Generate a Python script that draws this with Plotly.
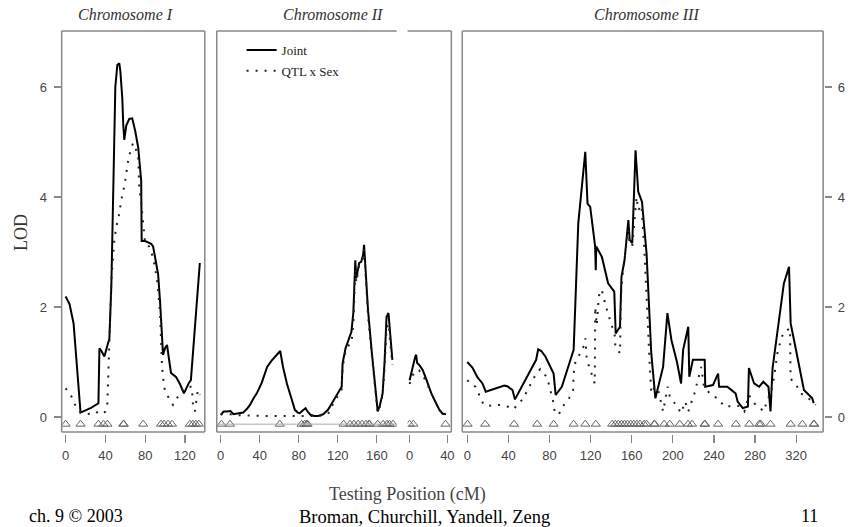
import plotly.graph_objects as go

W, H = 851, 527

# ---------------- data ----------------
# Chromosome I
c1_joint_x = [0, 4, 8, 11, 14, 15, 20, 26, 33, 34, 36, 39, 42, 44, 46, 48, 49, 50, 52, 54, 55, 57, 58, 59, 61, 64, 67, 70, 73, 75, 76, 76.5, 80, 86, 88, 90, 93, 95, 97, 98, 100, 102, 104, 106, 111, 115, 119, 122, 124, 126, 127, 131, 135]
c1_joint_y = [2.19, 2.05, 1.7, 1.0, 0.2, 0.08, 0.12, 0.17, 0.25, 1.25, 1.2, 1.1, 1.3, 1.42, 2.4, 4.0, 5.4, 6.0, 6.4, 6.43, 6.3, 5.8, 5.3, 5.04, 5.3, 5.42, 5.43, 5.2, 4.9, 4.5, 4.3, 3.2, 3.2, 3.15, 3.1, 2.9, 2.6, 2.1, 1.4, 1.13, 1.25, 1.31, 1.05, 0.8, 0.73, 0.6, 0.43, 0.55, 0.62, 0.67, 0.9, 1.9, 2.8]
c1_sex_x = [0, 3, 6, 10, 14, 20, 26, 30, 33, 37, 40, 42, 42.5, 43, 44, 46, 49, 51, 54, 56, 59, 63, 66, 68, 71, 73, 74, 76, 80, 84, 88, 92, 95, 96, 97, 99, 101, 104, 108, 113, 119, 124, 127, 128, 130, 133, 135]
c1_sex_y = [0.52, 0.45, 0.37, 0.2, 0.1, 0.05, 0.06, 0.1, 0.07, 0.05, 0.1, 0.25, 0.55, 1.0, 1.64, 2.49, 3.22, 3.46, 3.7, 3.95, 4.19, 4.67, 4.9, 4.98, 4.85, 4.73, 4.19, 3.9, 3.15, 3.1, 2.9, 2.49, 1.89, 1.2, 0.91, 0.55, 0.43, 0.34, 0.22, 0.37, 0.52, 0.55, 0.55, 0.25, 0.1, 0.49, 0.4]
c1_markers = [0, 15, 33, 38, 42, 58, 58.5, 78, 96, 99, 103, 107, 125, 128, 131, 134]

# Chromosome II (first segment)
c2a_joint_x = [0, 3, 6, 10, 13, 18, 23, 27, 30, 34, 37, 42, 47.6, 52, 56, 61, 64, 68, 73, 76, 79, 81, 84, 87, 89, 92, 96, 100, 105, 110, 114, 119, 122, 124, 125, 128, 131, 134, 136, 138, 139, 140, 142, 144, 146, 147, 149, 151, 155, 158, 160, 161, 163, 166, 168, 170, 172, 174, 175, 176]
c2a_joint_y = [0.04, 0.1, 0.1, 0.11, 0.05, 0.06, 0.08, 0.15, 0.22, 0.35, 0.43, 0.62, 0.91, 1.02, 1.1, 1.2, 0.9, 0.6, 0.31, 0.13, 0.08, 0.07, 0.12, 0.16, 0.1, 0.04, 0.02, 0.02, 0.05, 0.13, 0.25, 0.4, 0.5, 0.55, 0.98, 1.25, 1.4, 1.55, 1.9, 2.85, 2.52, 2.6, 2.8, 2.82, 2.95, 3.13, 2.6, 1.95, 1.16, 0.6, 0.31, 0.1, 0.2, 0.43, 1.0, 1.82, 1.89, 1.5, 1.28, 1.04]
c2a_sex_x = [0, 10, 20, 30, 40, 50, 60, 70, 80, 85, 90, 100, 110, 114, 119, 122, 124, 125, 128, 131, 134, 136, 138, 139, 140, 142, 144, 146, 147, 149, 151, 155, 158, 160, 161, 163, 166, 168, 170, 172, 174, 175, 176]
c2a_sex_y = [0.05, 0.05, 0.03, 0.02, 0.02, 0.02, 0.02, 0.02, 0.02, 0.03, 0.02, 0.02, 0.05, 0.2, 0.35, 0.45, 0.5, 0.9, 1.2, 1.3, 1.34, 1.7, 2.7, 2.45, 2.55, 2.75, 2.78, 2.9, 3.05, 2.5, 1.85, 1.1, 0.55, 0.28, 0.08, 0.18, 0.4, 0.9, 1.6, 1.7, 1.3, 1.15, 0.95]
c2a_markers = [0.7, 9.5, 60.5, 83, 86, 88, 89, 126, 132.5, 136.6, 141, 145, 149, 152, 152.5, 161, 166.5, 170.5, 173, 176.7]

# Chromosome II (second segment)
c2b_joint_x = [0, 3, 6, 7, 8, 10, 14, 18, 23, 28, 31.6, 35, 38.6]
c2b_joint_y = [0.67, 0.9, 1.1, 1.13, 0.98, 0.95, 0.85, 0.67, 0.43, 0.25, 0.13, 0.06, 0.05]
c2b_sex_x = [0, 4, 7, 10, 14, 18, 23, 28, 32, 36, 38]
c2b_sex_y = [0.6, 0.78, 0.85, 0.85, 0.75, 0.63, 0.43, 0.25, 0.12, 0.05, 0.04]
c2b_markers = [0, 4, 38]

# Chromosome III
c3_joint_x = [0, 5, 10, 14.8, 18, 24, 31, 36, 39, 44, 46.4, 53, 60, 67, 69, 72, 76, 80, 84, 86, 92, 98, 103.5, 108, 114.8, 117, 119.6, 124.4, 125, 125.5, 131, 137, 143, 144.4, 148.6, 150, 153, 156.7, 158, 160.5, 163.7, 166.3, 170, 174.4, 179, 183, 190.5, 194.7, 198.6, 204, 208, 210, 215, 216, 219.5, 231, 231.5, 239, 244, 245, 253, 261, 263, 268, 273, 274, 279, 284, 288, 293, 295, 297, 308, 313, 314.6, 320, 327.5, 335.6, 337]
c3_joint_y = [1.0, 0.9, 0.72, 0.61, 0.46, 0.5, 0.55, 0.57, 0.56, 0.49, 0.32, 0.55, 0.79, 1.04, 1.23, 1.2, 1.1, 0.95, 0.79, 0.4, 0.55, 0.9, 1.22, 3.52, 4.82, 3.88, 3.82, 3.1, 2.67, 3.1, 2.91, 2.43, 2.28, 1.52, 1.64, 2.55, 2.85, 3.58, 3.22, 3.16, 4.85, 4.1, 3.91, 2.98, 1.16, 0.34, 0.91, 1.89, 1.4, 1.0, 0.61, 1.22, 1.64, 0.73, 1.04, 1.04, 0.55, 0.58, 0.79, 0.55, 0.55, 0.43, 0.28, 0.16, 0.19, 0.89, 0.61, 0.55, 0.64, 0.55, 0.1, 0.89, 2.43, 2.73, 1.7, 1.2, 0.49, 0.34, 0.25]
c3_sex_x = [0, 4, 8, 11.6, 13, 16, 24.5, 31, 38, 45, 50, 55, 57, 61.6, 66, 71, 77.7, 80, 84, 85, 89, 91, 95, 99, 103, 103.5, 105, 109, 113, 115, 116, 118, 121, 124, 124.5, 126, 127.7, 129, 131, 135, 140, 143.8, 144, 148.6, 149, 150, 152, 153.5, 156.7, 158, 160.5, 164.7, 166.3, 169.5, 172.8, 177.6, 179, 182.5, 185.7, 190.5, 195, 197, 203, 208, 212, 215, 221, 227.6, 230, 235, 240, 244, 250, 258, 264, 269.5, 274, 279, 284, 288, 292, 296, 298.5, 301.7, 305, 308, 314, 314.5, 321, 324, 327.5, 334, 339]
c3_sex_y = [0.67, 0.6, 0.55, 0.4, 0.37, 0.22, 0.2, 0.22, 0.2, 0.14, 0.25, 0.34, 0.43, 0.58, 0.75, 0.87, 0.72, 0.55, 0.25, 0.1, 0.04, 0.13, 0.25, 0.34, 0.49, 0.79, 0.98, 1.13, 1.28, 1.43, 1.1, 0.95, 0.79, 0.61, 2.0, 1.67, 2.13, 2.31, 2.3, 2.0, 1.7, 1.46, 1.28, 1.16, 1.61, 2.37, 2.73, 2.98, 3.4, 3.16, 3.1, 4.0, 3.76, 3.85, 2.85, 0.91, 0.43, 0.55, 0.49, 0.1, 0.55, 0.37, 0.22, 0.07, 0.28, 0.1, 0.43, 0.91, 0.58, 0.45, 0.37, 0.34, 0.19, 0.2, 0.2, 0.1, 0.4, 0.25, 0.19, 0.1, 0.3, 0.5, 0.73, 1.16, 1.4, 1.55, 1.61, 0.7, 0.55, 0.43, 0.4, 0.31, 0.22]
c3_markers = [0.3, 17.4, 45.5, 68, 84, 103.5, 114.8, 125, 141, 144, 147, 150, 153, 156, 159, 162, 165, 168, 172, 174.4, 181.8, 182.3, 191.5, 197, 206.7, 214.7, 218.6, 230.8, 231.3, 244, 261.4, 274.4, 284, 285.6, 295, 314.6, 326, 337, 337.5]

marker_lod = -0.13

panel_titles = ["Chromosome I", "Chromosome II", "Chromosome III"]
c1_ticks = [0, 40, 80, 120]
c2a_ticks = [0, 40, 80, 120, 160]
c2b_ticks = [0, 40]
c3_ticks = [0, 40, 80, 120, 160, 200, 240, 280, 320]
lod_ticks = [0, 2, 4, 6]

# ---------------- layout helpers ----------------
def px(x):
    return x / W

def py(y):
    return 1 - y / H

Y_TOP, Y_FRAME_BOT, Y_AX_BOT = 31, 432, 434
Y_ZERO, PX_PER_LOD = 417, 55.0
y_range = [(Y_ZERO - Y_AX_BOT) / PX_PER_LOD, (Y_ZERO - Y_TOP) / PX_PER_LOD]

panels = [
    ("x", 60, 204, [-4, 140], (c1_joint_x, c1_joint_y, c1_sex_x, c1_sex_y, c1_markers), c1_ticks),
    ("x2", 216, 397, [-4.08, 180.4], (c2a_joint_x, c2a_joint_y, c2a_sex_x, c2a_sex_y, c2a_markers), c2a_ticks),
    ("x3", 408, 452, [-2.1, 44.2], (c2b_joint_x, c2b_joint_y, c2b_sex_x, c2b_sex_y, c2b_markers), c2b_ticks),
    ("x4", 463, 826, [-4.84, 346.2], (c3_joint_x, c3_joint_y, c3_sex_x, c3_sex_y, c3_markers), c3_ticks),
]

GREY = "#888888"
TICKFONT = dict(family="Liberation Sans, Arial", size=13, color="#444444")
SERIF = "Liberation Serif, Times New Roman, serif"

fig = go.Figure()

for i, (ax, x0, x1, rng, data, ticks) in enumerate(panels):
    jx, jy, sx, sy, mk = data
    fig.add_trace(go.Scatter(x=jx, y=jy, xaxis=ax, yaxis="y", mode="lines",
                             line=dict(color="black", width=2), name="Joint",
                             legendgroup="joint", showlegend=(i == 0)))
    fig.add_trace(go.Scatter(x=sx, y=sy, xaxis=ax, yaxis="y", mode="lines",
                             line=dict(color="#222222", width=2, dash="2px,7px"), name="QTL x Sex",
                             legendgroup="sex", showlegend=(i == 0)))
    fig.add_trace(go.Scatter(x=mk, y=[marker_lod] * len(mk), xaxis=ax, yaxis="y", mode="markers",
                             marker=dict(symbol="triangle-up-open", size=8, color="#666666",
                                         line=dict(width=1)),
                             showlegend=False, hoverinfo="skip"))
    axkey = "xaxis" if ax == "x" else "xaxis" + ax[1:]
    fig.layout[axkey] = dict(domain=[px(x0), px(x1)], range=rng, anchor="y",
                             showgrid=False, zeroline=False, showline=False,
                             ticks="outside", ticklen=8, tickcolor=GREY, tickwidth=1.2,
                             tickvals=ticks, ticktext=[str(t) for t in ticks],
                             tickfont=TICKFONT, ticklabelstandoff=1, fixedrange=True)

# invisible trace for right axis
fig.add_trace(go.Scatter(x=[None], y=[None], xaxis="x4", yaxis="y2", showlegend=False))

fig.update_layout(
    width=W, height=H,
    margin=dict(l=0, r=0, t=0, b=0),
    paper_bgcolor="white", plot_bgcolor="white",
    yaxis=dict(domain=[py(Y_AX_BOT), py(Y_TOP)], range=y_range, anchor="free", position=px(59),
               showgrid=False, zeroline=False, showline=False,
               ticks="outside", ticklen=7, tickcolor=GREY, tickwidth=1.2,
               tickvals=lod_ticks, ticktext=[str(t) for t in lod_ticks],
               tickfont=TICKFONT, ticklabelstandoff=4, fixedrange=True),
    yaxis2=dict(domain=[py(Y_AX_BOT), py(Y_TOP)], range=y_range, overlaying="y", side="right",
                anchor="free", position=px(827),
                showgrid=False, zeroline=False, showline=False,
                ticks="outside", ticklen=7, tickcolor=GREY, tickwidth=1.2,
                tickvals=lod_ticks, ticktext=[str(t) for t in lod_ticks],
                tickfont=TICKFONT, ticklabelstandoff=3, fixedrange=True),
    showlegend=True,
    legend=dict(x=px(241), y=py(35), xanchor="left", yanchor="top",
                bgcolor="rgba(0,0,0,0)", borderwidth=0,
                font=dict(family=SERIF, size=13, color="#222222"),
                itemwidth=30, tracegroupgap=1),
)

# frames
shapes = []
def seg(x0, y0, x1, y1):
    shapes.append(dict(type="line", xref="paper", yref="paper",
                       x0=px(x0), y0=py(y0), x1=px(x1), y1=py(y1),
                       line=dict(color=GREY, width=1.5)))

for (x0, x1) in [(60, 204), (463, 826)]:
    seg(x0, Y_TOP, x1, Y_TOP)
    seg(x0, Y_FRAME_BOT, x1, Y_FRAME_BOT)
    seg(x0, Y_TOP, x0, Y_FRAME_BOT)
    seg(x1, Y_TOP, x1, Y_FRAME_BOT)
# chromosome II frame with gap in top edge
seg(216, Y_TOP, 397, Y_TOP)
seg(408, Y_TOP, 452, Y_TOP)
seg(216, Y_FRAME_BOT, 452, Y_FRAME_BOT)
seg(216, Y_TOP, 216, Y_FRAME_BOT)
seg(452, Y_TOP, 452, Y_FRAME_BOT)
# baseline in chromosome II
shapes.append(dict(type="line", xref="paper", yref="y", x0=px(216), x1=px(397),
                   y0=marker_lod, y1=marker_lod, line=dict(color="#aaaaaa", width=1)))
fig.update_layout(shapes=shapes)

annotations = []
for title, cx in zip(panel_titles, [124, 333, 648]):
    annotations.append(dict(text="<i>" + title + "</i>", x=px(cx), y=py(14), xref="paper", yref="paper",
                            showarrow=False, xanchor="center", yanchor="middle",
                            font=dict(family=SERIF, size=16, color="#333333")))
annotations.append(dict(text="LOD", x=px(19), y=py(232), xref="paper", yref="paper",
                        showarrow=False, textangle=-90, xanchor="center", yanchor="middle",
                        font=dict(family=SERIF, size=18, color="#333333")))
annotations.append(dict(text="Testing Position (cM)", x=px(408), y=py(494), xref="paper", yref="paper",
                        showarrow=False, xanchor="center", yanchor="middle",
                        font=dict(family=SERIF, size=18, color="#444444")))
annotations.append(dict(text="ch. 9 © 2003", x=px(25), y=py(516), xref="paper", yref="paper",
                        showarrow=False, xanchor="left", yanchor="middle",
                        font=dict(family=SERIF, size=18, color="black")))
annotations.append(dict(text="Broman, Churchill, Yandell, Zeng", x=px(425), y=py(517), xref="paper", yref="paper",
                        showarrow=False, xanchor="center", yanchor="middle",
                        font=dict(family=SERIF, size=18.5, color="black")))
annotations.append(dict(text="11", x=px(823), y=py(516), xref="paper", yref="paper",
                        showarrow=False, xanchor="right", yanchor="middle",
                        font=dict(family=SERIF, size=18, color="black")))
fig.update_layout(annotations=annotations)

fig.write_html("out.html", config={"displayModeBar": False, "staticPlot": True},
               post_script="document.body.style.margin='0px';document.body.style.overflow='hidden';")
